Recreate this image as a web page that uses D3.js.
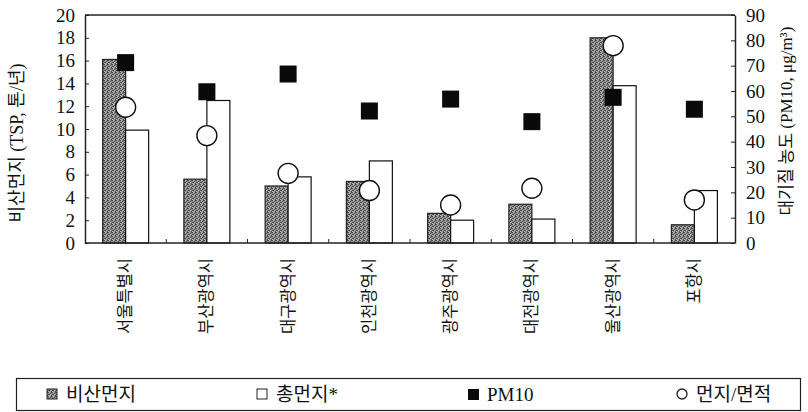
<!DOCTYPE html>
<html>
<head>
<meta charset="utf-8">
<script src="https://cdn.jsdelivr.net/npm/d3@7"></script>
<style>
  html, body { margin: 0; padding: 0; background: #fff; }
  svg { display: block; }
  text { fill: #111; }
</style>
</head>
<body>
<svg id="chart" width="808" height="412"></svg>
<script>
// Cities
const categories = ["서울특별시", "부산광역시", "대구광역시", "인천광역시", "광주광역시", "대전광역시", "울산광역시", "포항시"];
// 비산먼지 (TSP, 톤/년) — left axis
const tsp = [16.1, 5.6, 5.0, 5.4, 2.6, 3.4, 18.0, 1.6];
// 총먼지* (TSP, 톤/년) — left axis
const totalDust = [9.9, 12.5, 5.8, 7.2, 2.0, 2.1, 13.8, 4.6];
// PM10 concentration (μg/m³) — right axis
const pm10 = [71.2, 59.7, 66.7, 52.1, 56.8, 47.9, 57.5, 52.8];
// 먼지/면적 — right axis
const dustPerArea = [53.6, 42.4, 27.5, 20.7, 15.0, 21.6, 77.9, 17.0];

const leftTicks = [0, 2, 4, 6, 8, 10, 12, 14, 16, 18, 20];
const rightTicks = [0, 10, 20, 30, 40, 50, 60, 70, 80, 90];
const legendLabels = ["비산먼지", "총먼지*", "PM10", "먼지/면적"];

const FONT = "'Liberation Serif', 'Noto Sans CJK KR', serif";
const KFONT = "'Liberation Serif', 'Noto Sans CJK KR', sans-serif";

const svg = d3.select("#chart");
const plot = { left: 85, right: 735, top: 15, bottom: 243 };

const x = d3.scaleBand()
  .domain(categories)
  .range([plot.left, plot.right])
  .paddingInner(0.434)
  .paddingOuter(0.217);
const yL = d3.scaleLinear().domain([0, 20]).range([plot.bottom, plot.top]);
const yR = d3.scaleLinear().domain([0, 90]).range([plot.bottom, plot.top]);

const half = x.bandwidth() / 2;

// stippled grey fill for 비산먼지
const defs = svg.append("defs");
const pat = defs.append("pattern")
  .attr("id", "stipple")
  .attr("width", 4).attr("height", 4)
  .attr("patternUnits", "userSpaceOnUse");
pat.append("rect").attr("width", 4).attr("height", 4).attr("fill", "#939393");
[[0, 0], [2, 1], [1, 2], [3, 3], [3, 0], [0, 2]].forEach(([px, py]) =>
  pat.append("rect").attr("x", px).attr("y", py).attr("width", 1).attr("height", 1).attr("fill", "#484848"));
[[1, 0], [0, 3], [2, 2]].forEach(([px, py]) =>
  pat.append("rect").attr("x", px).attr("y", py).attr("width", 1).attr("height", 1).attr("fill", "#bdbdbd"));

// bars
svg.append("g").selectAll("rect").data(categories).join("rect")
  .attr("x", d => x(d))
  .attr("y", (d, i) => yL(tsp[i]))
  .attr("width", half)
  .attr("height", (d, i) => plot.bottom - yL(tsp[i]))
  .attr("fill", "url(#stipple)")
  .attr("stroke", "#222").attr("stroke-width", 1.2);

svg.append("g").selectAll("rect").data(categories).join("rect")
  .attr("x", d => x(d) + half)
  .attr("y", (d, i) => yL(totalDust[i]))
  .attr("width", half)
  .attr("height", (d, i) => plot.bottom - yL(totalDust[i]))
  .attr("fill", "#fff")
  .attr("stroke", "#111").attr("stroke-width", 1.2);

// frame: top line
svg.append("line")
  .attr("x1", plot.left).attr("x2", plot.right)
  .attr("y1", plot.top).attr("y2", plot.top)
  .attr("stroke", "#222").attr("stroke-width", 1.5);

// bottom baseline with category separators pointing up
svg.append("line")
  .attr("x1", plot.left).attr("x2", plot.right)
  .attr("y1", plot.bottom).attr("y2", plot.bottom)
  .attr("stroke", "#222").attr("stroke-width", 1.5);
const step = x.step();
svg.append("g").selectAll("line").data(categories.slice(1)).join("line")
  .attr("x1", d => x(d) - step * x.paddingInner() / 2)
  .attr("x2", d => x(d) - step * x.paddingInner() / 2)
  .attr("y1", plot.bottom).attr("y2", plot.bottom - 4)
  .attr("stroke", "#222").attr("stroke-width", 1);

// left axis
const gL = svg.append("g")
  .attr("transform", `translate(${plot.left},0)`)
  .call(d3.axisLeft(yL).tickValues(leftTicks).tickSizeInner(-4).tickSizeOuter(0).tickPadding(10));
gL.select(".domain").attr("stroke", "#222").attr("stroke-width", 1.5);
gL.selectAll(".tick line").attr("stroke", "#222");
gL.selectAll(".tick text").attr("font-family", FONT).attr("font-size", 19).attr("fill", "#111");

// right axis
const gR = svg.append("g")
  .attr("transform", `translate(${plot.right},0)`)
  .call(d3.axisRight(yR).tickValues(rightTicks).tickSizeInner(-4).tickSizeOuter(0).tickPadding(11));
gR.select(".domain").attr("stroke", "#222").attr("stroke-width", 1.5);
gR.selectAll(".tick line").attr("stroke", "#222");
gR.selectAll(".tick text").attr("font-family", FONT).attr("font-size", 19).attr("fill", "#111");

// PM10 squares
const sq = 17;
svg.append("g").selectAll("rect").data(categories).join("rect")
  .attr("x", d => x(d) + half - sq / 2)
  .attr("y", (d, i) => yR(pm10[i]) - sq / 2)
  .attr("width", sq).attr("height", sq)
  .attr("fill", "#0a0a0a");

// 먼지/면적 circles
svg.append("g").selectAll("circle").data(categories).join("circle")
  .attr("cx", d => x(d) + half)
  .attr("cy", (d, i) => yR(dustPerArea[i]))
  .attr("r", 10)
  .attr("fill", "#fff")
  .attr("stroke", "#111").attr("stroke-width", 1.4);

// category labels, rotated
svg.append("g").selectAll("text").data(categories).join("text")
  .attr("transform", d => `translate(${x(d) + half},${plot.bottom + 15}) rotate(-90)`)
  .attr("text-anchor", "end")
  .attr("dominant-baseline", "central")
  .attr("font-family", KFONT)
  .attr("font-size", 16.5)
  .text(d => d);

// axis titles
svg.append("text")
  .attr("transform", `translate(17,${(plot.top + plot.bottom) / 2 + 14}) rotate(-90)`)
  .attr("text-anchor", "middle")
  .attr("dominant-baseline", "central")
  .attr("font-family", KFONT)
  .attr("font-size", 18)
  .text("비산먼지 (TSP, 톤/년)");

svg.append("text")
  .attr("transform", `translate(786,${(plot.top + plot.bottom) / 2 - 8}) rotate(-90)`)
  .attr("text-anchor", "middle")
  .attr("dominant-baseline", "central")
  .attr("font-family", KFONT)
  .attr("font-size", 17)
  .text("대기질 농도 (PM10, μg/m³)");

// legend
const leg = svg.append("g");
leg.append("rect")
  .attr("x", 16.5).attr("y", 378.5).attr("width", 784).attr("height", 32)
  .attr("fill", "none").attr("stroke", "#222").attr("stroke-width", 1.2);
const legY = 394;
const legX = [47, 257, 468, 677];
// 비산먼지
leg.append("rect").attr("x", legX[0]).attr("y", legY - 5).attr("width", 10).attr("height", 10)
  .attr("fill", "url(#stipple)").attr("stroke", "#222");
// 총먼지*
leg.append("rect").attr("x", legX[1]).attr("y", legY - 5).attr("width", 10).attr("height", 10)
  .attr("fill", "#fff").attr("stroke", "#222");
// PM10
leg.append("rect").attr("x", legX[2]).attr("y", legY - 5).attr("width", 11).attr("height", 11)
  .attr("fill", "#0a0a0a");
// 먼지/면적
leg.append("circle").attr("cx", legX[3] + 5).attr("cy", legY).attr("r", 5)
  .attr("fill", "#fff").attr("stroke", "#222").attr("stroke-width", 1.3);
leg.selectAll("text.lg").data(legendLabels).join("text")
  .attr("class", "lg")
  .attr("x", (d, i) => legX[i] + 19)
  .attr("y", legY)
  .attr("dominant-baseline", "central")
  .attr("font-family", KFONT)
  .attr("font-size", 19)
  .text(d => d);
</script>
</body>
</html>
